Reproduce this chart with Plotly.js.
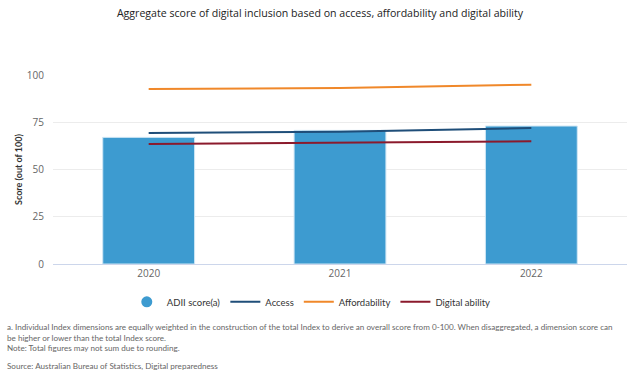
<!DOCTYPE html>
<html><head><meta charset="utf-8">
<script src="https://cdn.plot.ly/plotly-3.0.1.min.js"></script>
<style>html,body{margin:0;padding:0;background:#fff}#c{width:640px;height:381px}</style>
</head><body><div id="c"></div>
<script>
const years = ['2020', '2021', '2022'];
const adii = [67.0, 70.7, 73.0];
const access = [69.3, 70.0, 71.9];
const affordability = [92.6, 93.1, 94.9];
const digitalAbility = [63.5, 64.2, 64.9];
const yTicks = [0, 25, 50, 75, 100];

const F = '"Open Sans", "Noto Sans", sans-serif';
const FN = 'Lato, "Open Sans", sans-serif';
const traces = [
  {type:'bar', x:years, y:adii, name:'ADII score(a)', width:0.48, showlegend:false,
   marker:{color:'#3d9bd0', line:{color:'#cfe6f5', width:1}}, hoverinfo:'y'},
  {type:'scatter', mode:'markers', x:[null], y:[null], name:'ADII score(a)',
   marker:{color:'#3d9bd0', size:11, symbol:'circle'}},
  {type:'scatter', mode:'lines', x:years, y:access, name:'Access', line:{color:'#1f4e79', width:2}},
  {type:'scatter', mode:'lines', x:years, y:affordability, name:'Affordability', line:{color:'#f0882a', width:2}},
  {type:'scatter', mode:'lines', x:years, y:digitalAbility, name:'Digital ability', line:{color:'#8b1a2c', width:2}}
];
const gray = '#666666';
const layout = {
  width:640, height:381,
  margin:{l:53, r:13, t:75, b:117},
  paper_bgcolor:'#fff', plot_bgcolor:'#fff',
  font:{family:F, size:10, color:gray},
  title:{text:'Aggregate score of digital inclusion based on access, affordability and digital ability',
    font:{family:F, size:10.6, color:'#222222'}, x:0.5, xanchor:'center', y:0.965, yanchor:'middle'},
  xaxis:{type:'category', range:[-0.5, 2.5], showgrid:false, showline:true, linecolor:'#ccd6eb',
    ticks:'', tickfont:{size:10, color:gray}, fixedrange:true},
  yaxis:{range:[0, 100], tickvals:yTicks, showgrid:true, gridcolor:'#ececec', zeroline:false,
    showline:false, ticks:'', tickfont:{size:10, color:gray}, ticklabelstandoff:8,
    title:{text:'<b>Score (out of 100)</b>', font:{family:FN, size:9, color:'#333333'}, standoff:2}},
  bargap:0.5,
  showlegend:true,
  legend:{orientation:'h', x:0.45, xanchor:'center', y:-0.2, yanchor:'middle',
    font:{family:FN, size:9.5, color:'#333333'}, itemwidth:30, traceorder:'normal'},
  annotations:[
    {xref:'paper', yref:'paper', x:-0.083, y:-0.295, xanchor:'left', yanchor:'top', align:'left', showarrow:false,
     font:{family:FN, size:8.1, color:gray},
     text:'a. Individual Index dimensions are equally weighted in the construction of the total Index to derive an overall score from 0-100. When disaggregated, a dimension score can<br>be higher or lower than the total Index score.<br>Note: Total figures may not sum due to rounding.'},
    {xref:'paper', yref:'paper', x:-0.083, y:-0.5, xanchor:'left', yanchor:'top', align:'left', showarrow:false,
     font:{family:FN, size:8.1, color:gray}, text:'Source: Australian Bureau of Statistics, Digital preparedness'}
  ]
};
Plotly.newPlot('c', traces, layout, {displayModeBar:false, staticPlot:true});
</script></body></html>
